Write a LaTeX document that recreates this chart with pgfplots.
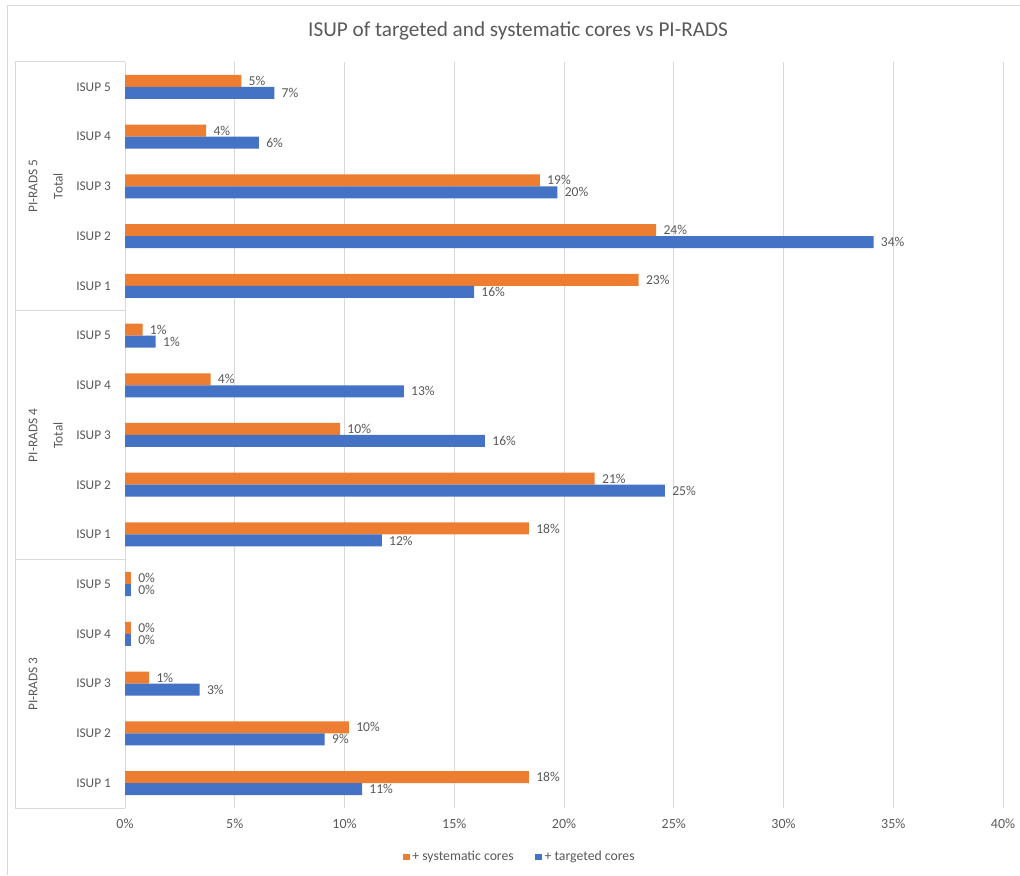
\documentclass[border=0pt]{standalone}
\usepackage{pgfplots}
\pgfplotsset{compat=1.18}
\usepackage{fontspec}
\setmainfont{Carlito}
\definecolor{xorange}{HTML}{ED7D31}
\definecolor{xblue}{HTML}{4472C4}
\definecolor{txt}{HTML}{595959}
\definecolor{lin}{HTML}{D9D9D9}
\begin{document}
\begin{tikzpicture}
\useasboundingbox (0pt,0pt) rectangle (765pt,656.25pt);
\begin{scope}[shift={(0pt,656.25pt)}, x=0.75pt, y=-0.75pt]
\draw[lin, line width=0.75pt] (7,875) -- (7,6) -- (1020,6);
\draw[lin, line width=0.75pt] (15,62) -- (15,808);
\foreach \yy in {62,311,560,808} \draw[lin, line width=0.75pt] (15,\yy) -- (125,\yy);
\node[text=txt, font=\fontsize{15.9}{19}\selectfont] at (518,31) {ISUP of targeted and systematic cores vs PI-RADS};
\node[rotate=90, text=txt, font=\fontsize{10}{12}\selectfont] at (33,186) {PI-RADS 5};
\node[rotate=90, text=txt, font=\fontsize{10}{12}\selectfont] at (58,186) {Total};
\node[rotate=90, text=txt, font=\fontsize{10}{12}\selectfont] at (33,435.5) {PI-RADS 4};
\node[rotate=90, text=txt, font=\fontsize{10}{12}\selectfont] at (58,435.5) {Total};
\node[rotate=90, text=txt, font=\fontsize{10}{12}\selectfont] at (33,684) {PI-RADS 3};
\end{scope}
\begin{axis}[
  at={(93.75pt,50.25pt)}, anchor=south west,
  scale only axis, width=658.5pt, height=559.5pt,
  xbar, bar width=9pt,
  xmin=0, xmax=40, ymin=-0.5, ymax=14.5,
  xtick={0,5,...,40},
  xticklabel={\pgfmathprintnumber{\tick}\%},
  ytick={0,...,14},
  yticklabels={ISUP 1,ISUP 2,ISUP 3,ISUP 4,ISUP 5,ISUP 1,ISUP 2,ISUP 3,ISUP 4,ISUP 5,ISUP 1,ISUP 2,ISUP 3,ISUP 4,ISUP 5},
  major tick length=0,
  xmajorgrids, grid style={lin, line width=0.75pt},
  axis x line*=bottom, axis y line*=left,
  x axis line style={draw=none, -},
  y axis line style={draw=lin, line width=0.75pt, -},
  /pgf/number format/assume math mode=true,
  x tick label style={text=txt, font=\fontsize{10.5}{12}\selectfont, yshift=-5pt},
  y tick label style={text=txt, font=\fontsize{10}{12}\selectfont, xshift=-7pt},
  nodes near coords={\pgfmathprintnumber[fixed,precision=0]{\pgfplotspointmeta}\%},
  nodes near coords style={text=txt, font=\fontsize{10.2}{12}\selectfont, anchor=west, xshift=2pt},
  point meta=x,
  legend columns=2,
  legend style={draw=none, fill=none, text=txt, font=\fontsize{10.3}{12}\selectfont,
    at={(0.45,-0.0657)}, anchor=center,
    /tikz/every even column/.append style={column sep=14pt}},
  legend image code/.code={\fill (0cm,-0.09cm) rectangle (0.18cm,0.09cm);},
]
\addplot[draw=none, fill=xorange, bar shift=4.5pt] coordinates {
(18.4,0) (10.2,1) (1.1,2) (0.27,3) (0.27,4)
(18.4,5) (21.4,6) (9.8,7) (3.9,8) (0.8,9)
(23.4,10) (24.2,11) (18.9,12) (3.7,13) (5.3,14)};
\addlegendentry{+ systematic cores}
\addplot[draw=none, fill=xblue, bar shift=-4.5pt] coordinates {
(10.8,0) (9.1,1) (3.4,2) (0.27,3) (0.27,4)
(11.7,5) (24.6,6) (16.4,7) (12.7,8) (1.4,9)
(15.9,10) (34.1,11) (19.7,12) (6.1,13) (6.8,14)};
\addlegendentry{+ targeted cores}
\end{axis}
\end{tikzpicture}
\end{document}
